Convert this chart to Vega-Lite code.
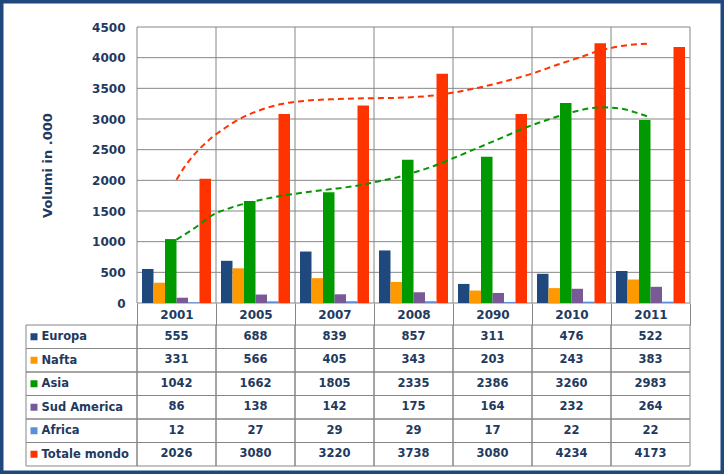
{
  "$schema": "https://vega.github.io/schema/vega-lite/v6.json",
  "width": 724,
  "height": 474,
  "padding": 0,
  "autosize": {"type": "none"},
  "background": "white",
  "config": {
    "font": "DejaVu Sans",
    "view": {"stroke": "#1F497D", "strokeWidth": 7, "fill": "white"}
  },
  "datasets": {
    "tbl": [
      {"year": "2001", "series": "Europa", "value": 555},
      {"year": "2005", "series": "Europa", "value": 688},
      {"year": "2007", "series": "Europa", "value": 839},
      {"year": "2008", "series": "Europa", "value": 857},
      {"year": "2090", "series": "Europa", "value": 311},
      {"year": "2010", "series": "Europa", "value": 476},
      {"year": "2011", "series": "Europa", "value": 522},
      {"year": "2001", "series": "Nafta", "value": 331},
      {"year": "2005", "series": "Nafta", "value": 566},
      {"year": "2007", "series": "Nafta", "value": 405},
      {"year": "2008", "series": "Nafta", "value": 343},
      {"year": "2090", "series": "Nafta", "value": 203},
      {"year": "2010", "series": "Nafta", "value": 243},
      {"year": "2011", "series": "Nafta", "value": 383},
      {"year": "2001", "series": "Asia", "value": 1042},
      {"year": "2005", "series": "Asia", "value": 1662},
      {"year": "2007", "series": "Asia", "value": 1805},
      {"year": "2008", "series": "Asia", "value": 2335},
      {"year": "2090", "series": "Asia", "value": 2386},
      {"year": "2010", "series": "Asia", "value": 3260},
      {"year": "2011", "series": "Asia", "value": 2983},
      {"year": "2001", "series": "Sud America", "value": 86},
      {"year": "2005", "series": "Sud America", "value": 138},
      {"year": "2007", "series": "Sud America", "value": 142},
      {"year": "2008", "series": "Sud America", "value": 175},
      {"year": "2090", "series": "Sud America", "value": 164},
      {"year": "2010", "series": "Sud America", "value": 232},
      {"year": "2011", "series": "Sud America", "value": 264},
      {"year": "2001", "series": "Africa", "value": 12},
      {"year": "2005", "series": "Africa", "value": 27},
      {"year": "2007", "series": "Africa", "value": 29},
      {"year": "2008", "series": "Africa", "value": 29},
      {"year": "2090", "series": "Africa", "value": 17},
      {"year": "2010", "series": "Africa", "value": 22},
      {"year": "2011", "series": "Africa", "value": 22},
      {"year": "2001", "series": "Totale mondo", "value": 2026},
      {"year": "2005", "series": "Totale mondo", "value": 3080},
      {"year": "2007", "series": "Totale mondo", "value": 3220},
      {"year": "2008", "series": "Totale mondo", "value": 3738},
      {"year": "2090", "series": "Totale mondo", "value": 3080},
      {"year": "2010", "series": "Totale mondo", "value": 4234},
      {"year": "2011", "series": "Totale mondo", "value": 4173}
    ],
    "trend": [
      {"series": "Totale mondo", "col": 0.5, "value": 2010},
      {"series": "Totale mondo", "col": 0.61, "value": 2234},
      {"series": "Totale mondo", "col": 0.71, "value": 2397},
      {"series": "Totale mondo", "col": 0.82, "value": 2549},
      {"series": "Totale mondo", "col": 0.95, "value": 2701},
      {"series": "Totale mondo", "col": 1.09, "value": 2832},
      {"series": "Totale mondo", "col": 1.26, "value": 2973},
      {"series": "Totale mondo", "col": 1.47, "value": 3103},
      {"series": "Totale mondo", "col": 1.64, "value": 3179},
      {"series": "Totale mondo", "col": 1.81, "value": 3239},
      {"series": "Totale mondo", "col": 2.1, "value": 3293},
      {"series": "Totale mondo", "col": 2.44, "value": 3321},
      {"series": "Totale mondo", "col": 2.87, "value": 3337},
      {"series": "Totale mondo", "col": 3.29, "value": 3345},
      {"series": "Totale mondo", "col": 3.71, "value": 3378},
      {"series": "Totale mondo", "col": 4.05, "value": 3440},
      {"series": "Totale mondo", "col": 4.38, "value": 3527},
      {"series": "Totale mondo", "col": 4.72, "value": 3636},
      {"series": "Totale mondo", "col": 5.02, "value": 3748},
      {"series": "Totale mondo", "col": 5.31, "value": 3880},
      {"series": "Totale mondo", "col": 5.61, "value": 4006},
      {"series": "Totale mondo", "col": 5.86, "value": 4115},
      {"series": "Totale mondo", "col": 6.11, "value": 4185},
      {"series": "Totale mondo", "col": 6.5, "value": 4230},
      {"series": "Asia", "col": 0.5, "value": 1035},
      {"series": "Asia", "col": 0.8, "value": 1288},
      {"series": "Asia", "col": 0.9, "value": 1390},
      {"series": "Asia", "col": 1.18, "value": 1550},
      {"series": "Asia", "col": 1.47, "value": 1652},
      {"series": "Asia", "col": 1.81, "value": 1745},
      {"series": "Asia", "col": 2.1, "value": 1798},
      {"series": "Asia", "col": 2.44, "value": 1853},
      {"series": "Asia", "col": 2.78, "value": 1912},
      {"series": "Asia", "col": 3.08, "value": 1990},
      {"series": "Asia", "col": 3.29, "value": 2048},
      {"series": "Asia", "col": 3.5, "value": 2125},
      {"series": "Asia", "col": 3.71, "value": 2212},
      {"series": "Asia", "col": 4.0, "value": 2360},
      {"series": "Asia", "col": 4.3, "value": 2522},
      {"series": "Asia", "col": 4.6, "value": 2685},
      {"series": "Asia", "col": 4.89, "value": 2845},
      {"series": "Asia", "col": 5.19, "value": 2984},
      {"series": "Asia", "col": 5.52, "value": 3115},
      {"series": "Asia", "col": 5.86, "value": 3190},
      {"series": "Asia", "col": 6.11, "value": 3174},
      {"series": "Asia", "col": 6.28, "value": 3119},
      {"series": "Asia", "col": 6.5, "value": 3025}
    ],
    "hg": [
      {"g": 0}, {"g": 500}, {"g": 1000}, {"g": 1500}, {"g": 2000},
      {"g": 2500}, {"g": 3000}, {"g": 3500}, {"g": 4000}, {"g": 4500}
    ],
    "vg": [
      {"c": 0}, {"c": 1}, {"c": 2}, {"c": 3}, {"c": 4}, {"c": 5}, {"c": 6}, {"c": 7}
    ],
    "ser": [
      {"series": "Europa"}, {"series": "Nafta"}, {"series": "Asia"},
      {"series": "Sud America"}, {"series": "Africa"}, {"series": "Totale mondo"}
    ]
  },
  "layer": [
    {
      "data": {"name": "hg"},
      "mark": {"type": "rule", "stroke": "#868686", "strokeWidth": 1},
      "encoding": {
        "x": {"datum": 0, "type": "quantitative", "scale": {"domain": [0, 7], "range": [137, 690], "nice": false, "zero": false}, "axis": null},
        "x2": {"datum": 7},
        "y": {"field": "g", "type": "quantitative", "scale": {"domain": [0, 4500], "range": [303, 27], "nice": false, "zero": false}, "axis": null}
      }
    },
    {
      "data": {"name": "vg"},
      "mark": {"type": "rule", "stroke": "#868686", "strokeWidth": 1},
      "encoding": {
        "x": {"field": "c", "type": "quantitative", "scale": {"domain": [0, 7], "range": [137, 690], "nice": false, "zero": false}, "axis": null},
        "y": {"datum": 0, "type": "quantitative", "scale": {"domain": [0, 4500], "range": [303, 27], "nice": false, "zero": false}, "axis": null},
        "y2": {"datum": 4500}
      }
    },
    {
      "data": {"name": "tbl"},
      "mark": {"type": "bar"},
      "encoding": {
        "x": {
          "field": "year", "type": "nominal",
          "scale": {"domain": ["2001", "2005", "2007", "2008", "2090", "2010", "2011"], "range": [137, 690], "paddingInner": 0, "paddingOuter": 0},
          "axis": {
            "orient": "bottom", "offset": -171, "title": null, "domain": false, "grid": false,
            "tickBand": "extent", "tickSize": 22, "tickColor": "#868686", "tickWidth": 1,
            "labelAngle": 0, "labelPadding": -11, "labelBaseline": "middle",
            "labelFont": "DejaVu Sans", "labelFontWeight": "bold", "labelFontSize": 12, "labelColor": "#1F3A60"
          }
        },
        "xOffset": {
          "field": "series", "type": "nominal",
          "scale": {"domain": ["Europa", "Nafta", "Asia", "Sud America", "Africa", "Totale mondo"], "paddingInner": 0, "paddingOuter": 0.435}
        },
        "y": {
          "field": "value", "type": "quantitative",
          "scale": {"domain": [0, 4500], "range": [303, 27], "nice": false, "zero": false},
          "axis": {
            "orient": "left", "offset": -137, "values": [0, 500, 1000, 1500, 2000, 2500, 3000, 3500, 4000, 4500], "format": "d",
            "domain": false, "ticks": false, "tickSize": 0, "grid": false, "labelPadding": 12,
            "labelFont": "DejaVu Sans", "labelFontWeight": "bold", "labelFontSize": 12, "labelColor": "#1F3A60",
            "title": "Volumi in .000", "titleX": -90, "titleY": 165, "titleAngle": -90, "titleAlign": "center", "titleBaseline": "middle",
            "titleFont": "DejaVu Sans", "titleFontWeight": "bold", "titleFontSize": 13, "titleColor": "#1F3A60"
          }
        },
        "color": {
          "field": "series", "type": "nominal",
          "scale": {"domain": ["Europa", "Nafta", "Asia", "Sud America", "Africa", "Totale mondo"], "range": ["#1F497D", "#FF9900", "#009900", "#775A96", "#5B8FD8", "#FF3300"]},
          "legend": null
        }
      }
    },
    {
      "data": {"name": "trend"},
      "mark": {"type": "line", "strokeDash": [6, 4], "strokeWidth": 2, "interpolate": "monotone"},
      "encoding": {
        "x": {"field": "col", "type": "quantitative", "scale": {"domain": [0, 7], "range": [137, 690], "nice": false, "zero": false}, "axis": null},
        "y": {"field": "value", "type": "quantitative", "scale": {"domain": [0, 4500], "range": [303, 27], "nice": false, "zero": false}, "axis": null},
        "color": {
          "field": "series", "type": "nominal",
          "scale": {"domain": ["Europa", "Nafta", "Asia", "Sud America", "Africa", "Totale mondo"], "range": ["#1F497D", "#FF9900", "#009900", "#775A96", "#5B8FD8", "#FF3300"]},
          "legend": null
        },
        "detail": {"field": "series"}
      }
    },
    {
      "data": {"name": "tbl"},
      "mark": {"type": "rect", "fill": "transparent", "stroke": "#868686", "strokeWidth": 1},
      "encoding": {
        "x": {"field": "year", "type": "nominal", "scale": {"domain": ["2001", "2005", "2007", "2008", "2090", "2010", "2011"], "range": [137, 690], "paddingInner": 0, "paddingOuter": 0}, "axis": null},
        "y": {"field": "series", "type": "nominal", "scale": {"domain": ["Europa", "Nafta", "Asia", "Sud America", "Africa", "Totale mondo"], "range": [325, 466], "paddingInner": 0, "paddingOuter": 0}, "axis": null}
      }
    },
    {
      "data": {"name": "tbl"},
      "mark": {"type": "text", "font": "DejaVu Sans", "fontWeight": "bold", "fontSize": 11.5, "color": "#1F3A60", "align": "center", "baseline": "middle"},
      "encoding": {
        "x": {"field": "year", "type": "nominal", "scale": {"domain": ["2001", "2005", "2007", "2008", "2090", "2010", "2011"], "range": [137, 690], "paddingInner": 0, "paddingOuter": 0}, "axis": null},
        "y": {
          "field": "series", "type": "nominal",
          "scale": {"domain": ["Europa", "Nafta", "Asia", "Sud America", "Africa", "Totale mondo"], "range": [325, 466], "paddingInner": 0, "paddingOuter": 0},
          "axis": {
            "orient": "left", "offset": -137, "title": null, "domain": false, "ticks": false, "tickSize": 0, "grid": false,
            "labelAlign": "left", "labelPadding": 96, "labelBaseline": "middle",
            "labelFont": "DejaVu Sans", "labelFontWeight": "bold", "labelFontSize": 11.5, "labelColor": "#1F3A60"
          }
        },
        "text": {"field": "value", "type": "quantitative", "format": "d"}
      }
    },
    {
      "data": {"name": "ser"},
      "mark": {"type": "rect", "fill": "transparent", "stroke": "#868686", "strokeWidth": 1},
      "encoding": {
        "x": {"datum": -1.4051, "type": "quantitative", "scale": {"domain": [0, 7], "range": [137, 690], "nice": false, "zero": false}, "axis": null},
        "x2": {"datum": 0},
        "y": {"field": "series", "type": "nominal", "scale": {"domain": ["Europa", "Nafta", "Asia", "Sud America", "Africa", "Totale mondo"], "range": [325, 466], "paddingInner": 0, "paddingOuter": 0}, "axis": null}
      }
    },
    {
      "data": {"name": "ser"},
      "mark": {"type": "point", "shape": "square", "filled": true, "size": 49, "opacity": 1},
      "encoding": {
        "x": {"datum": -1.3038, "type": "quantitative", "scale": {"domain": [0, 7], "range": [137, 690], "nice": false, "zero": false}, "axis": null},
        "y": {"field": "series", "type": "nominal", "scale": {"domain": ["Europa", "Nafta", "Asia", "Sud America", "Africa", "Totale mondo"], "range": [325, 466], "paddingInner": 0, "paddingOuter": 0}, "axis": null},
        "color": {
          "field": "series", "type": "nominal",
          "scale": {"domain": ["Europa", "Nafta", "Asia", "Sud America", "Africa", "Totale mondo"], "range": ["#1F497D", "#FF9900", "#009900", "#775A96", "#5B8FD8", "#FF3300"]},
          "legend": null
        }
      }
    }
  ],
  "resolve": {"scale": {"x": "independent", "y": "independent"}}
}
